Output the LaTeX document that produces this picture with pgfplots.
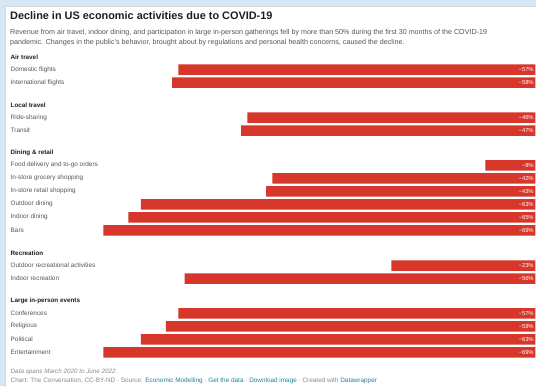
\documentclass[border=0pt]{standalone}
\usepackage{pgfplots}
\pgfplotsset{compat=1.18}
\usepackage{fontspec}
\setmainfont{Liberation Sans}
\definecolor{bgblue}{HTML}{D6E6F3}
\definecolor{barred}{HTML}{D7372A}
\definecolor{labgray}{HTML}{555555}
\definecolor{hdr}{HTML}{1E1E1E}
\definecolor{foot}{HTML}{8A8A8A}
\definecolor{link}{HTML}{1D81A2}
\newcommand{\lab}[2]{\node[anchor=west, inner sep=0pt, text=labgray, font=\fontsize{6.4}{7}\selectfont] at (10.5pt,-#1pt) {#2};}
\newcommand{\hd}[2]{\node[anchor=west, inner sep=0pt, text=hdr, font=\bfseries\fontsize{6.3}{7}\selectfont] at (10.5pt,-#1pt) {#2};}
\begin{document}
\begin{tikzpicture}
\useasboundingbox (0pt,0pt) rectangle (536pt,-386pt);
\fill[bgblue] (0pt,0pt) rectangle (536pt,-386pt);
\fill[white] (5pt,-6pt) rectangle (540pt,-390pt);
\draw[gray!30, line width=0.5pt] (5pt,-390pt) -- (5pt,-6pt) -- (540pt,-6pt);
\node[anchor=west, inner sep=0pt, text=hdr, font=\bfseries\fontsize{10.9}{12}\selectfont] at (10pt,-16pt) {Decline in US economic activities due to COVID-19};
\node[anchor=west, inner sep=0pt, text=labgray, font=\fontsize{7.15}{8}\selectfont] at (10pt,-32.7pt) {Revenue from air travel, indoor dining, and participation in large in-person gatherings fell by more than 50\% during the first 30 months of the COVID-19};
\node[anchor=west, inner sep=0pt, text=labgray, font=\fontsize{7.15}{8}\selectfont] at (10pt,-42.7pt) {pandemic. Changes in the public’s behavior, brought about by regulations and personal health concerns, caused the decline.};
\begin{axis}[at={(97pt,-357pt)}, anchor=south west, scale only axis, width=438.4pt, height=300pt,
  xmin=-70, xmax=0, ymin=-357, ymax=-57, hide axis, clip=false]
\addplot[xbar, bar width=10.5pt, fill=barred, draw=none] coordinates {
(-57,-69.7) (-58,-82.7)
(-46,-117.5) (-47,-130.5)
(-8,-165.3) (-42,-178.3) (-43,-191.3) (-63,-204.3) (-65,-217.3) (-69,-230.3)
(-23,-265.5) (-56,-278.5)
(-57,-313.3) (-59,-326.3) (-63,-339.3) (-69,-352.3)
};
\foreach \yy/\vv in {69.7/57,82.7/58,117.5/46,130.5/47,165.3/8,178.3/42,191.3/43,204.3/63,217.3/65,230.3/69,265.5/23,278.5/56,313.3/57,326.3/59,339.3/63,352.3/69}{
  \edef\tmp{\noexpand\node[anchor=east, inner sep=0pt, text=white, font=\noexpand\fontsize{5.8}{7}\noexpand\selectfont] at (axis cs:-0.25,-\yy) {−\vv\noexpand\%};}\tmp
}
\end{axis}
\hd{57.5}{Air travel}
\lab{69.7}{Domestic flights}
\lab{82.7}{International flights}
\hd{105}{Local travel}
\lab{117.5}{Ride-sharing}
\lab{130.5}{Transit}
\hd{153.3}{Dining \& retail}
\lab{165.3}{Food delivery and to-go orders}
\lab{178.3}{In-store grocery shopping}
\lab{191.3}{In-store retail shopping}
\lab{204.3}{Outdoor dining}
\lab{217.3}{Indoor dining}
\lab{230.3}{Bars}
\hd{253.3}{Recreation}
\lab{265.5}{Outdoor recreational activities}
\lab{278.5}{Indoor recreation}
\hd{301.3}{Large in-person events}
\lab{313.3}{Conferences}
\lab{326.3}{Religious}
\lab{339.3}{Political}
\lab{352.3}{Entertainment}
\node[anchor=west, inner sep=0pt, text=foot, font=\itshape\fontsize{6.3}{7}\selectfont] at (10.5pt,-371.7pt) {Data spans March 2020 to June 2022.};
\node[anchor=west, inner sep=0pt, text=foot, font=\fontsize{6.4}{7}\selectfont] at (10.5pt,-381pt) {Chart: The Conversation, CC-BY-ND · Source: \textcolor{link}{Economic Modelling} · \textcolor{link}{Get the data} · \textcolor{link}{Download image} · Created with \textcolor{link}{Datawrapper}};
\end{tikzpicture}
\end{document}
